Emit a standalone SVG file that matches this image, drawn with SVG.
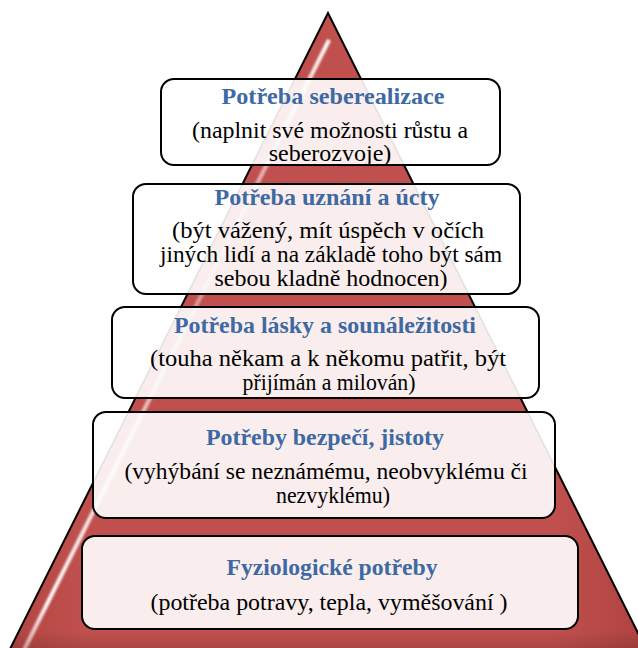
<svg xmlns="http://www.w3.org/2000/svg" width="638" height="648" viewBox="0 0 638 648">
<defs>
<linearGradient id="pyrFill" x1="0" y1="0" x2="1" y2="0">
<stop offset="0" stop-color="#B24541"/>
<stop offset="0.12" stop-color="#C0504D"/>
<stop offset="0.85" stop-color="#C0504D"/>
<stop offset="1" stop-color="#AE423F"/>
</linearGradient>
<linearGradient id="pyrBottom" x1="0" y1="0" x2="0" y2="1">
<stop offset="0" stop-color="#000" stop-opacity="0"/>
<stop offset="0.96" stop-color="#000" stop-opacity="0"/>
<stop offset="1" stop-color="#000" stop-opacity="0.18"/>
</linearGradient>
<linearGradient id="hl" gradientUnits="userSpaceOnUse" x1="328" y1="40" x2="23" y2="652">
<stop offset="0" stop-color="#fff" stop-opacity="1"/>
<stop offset="0.08" stop-color="#fff" stop-opacity="0.8"/>
<stop offset="0.35" stop-color="#fff" stop-opacity="0.35"/>
<stop offset="0.65" stop-color="#fff" stop-opacity="0.7"/>
<stop offset="0.92" stop-color="#fff" stop-opacity="1"/>
<stop offset="1" stop-color="#fff" stop-opacity="0.5"/>
</linearGradient>
<filter id="soft" x="-0.1" y="-0.1" width="1.2" height="1.2"><feGaussianBlur stdDeviation="1"/></filter>
</defs>
<style>
.box{fill:#fff;fill-opacity:0.9;stroke:#000;stroke-width:2}
.t{font-family:'Liberation Serif','Times New Roman',serif;font-weight:bold;font-size:24px;fill:#3E69A3;text-anchor:middle}
.b{font-family:'Liberation Serif','Times New Roman',serif;font-size:24px;fill:#000;text-anchor:middle}
</style>
<g id="pyramid">
<polygon points="328,13 6,657 650,657" fill="url(#pyrFill)"/>
<polygon points="328,13 6,657 650,657" fill="url(#pyrBottom)"/>
<polyline points="329,40 23,652" fill="none" stroke="url(#hl)" stroke-width="4" filter="url(#soft)"/>
<polygon points="328,13 6,657 650,657" fill="none" stroke="#000" stroke-width="2" stroke-linejoin="miter"/>
</g>
<g id="level1">
<rect class="box" x="161" y="79" width="339" height="86" rx="13"/>
<text class="t" x="333" y="104" textLength="223" lengthAdjust="spacingAndGlyphs">Potřeba seberealizace</text>
<text class="b" x="330" y="138" textLength="276" lengthAdjust="spacingAndGlyphs">(naplnit své možnosti růstu a</text>
<text class="b" x="330" y="161">seberozvoje)</text>
</g>
<g id="level2">
<rect class="box" x="133" y="184" width="387" height="110" rx="13"/>
<text class="t" x="327" y="205" textLength="225" lengthAdjust="spacingAndGlyphs">Potřeba uznání a úcty</text>
<text class="b" x="328" y="238" textLength="312" lengthAdjust="spacingAndGlyphs">(být vážený, mít úspěch v očích</text>
<text class="b" x="331" y="262" textLength="342" lengthAdjust="spacingAndGlyphs">jiných lidí a na základě toho být sám</text>
<text class="b" x="331" y="286" textLength="233" lengthAdjust="spacingAndGlyphs">sebou kladně hodnocen)</text>
</g>
<g id="level3">
<rect class="box" x="112" y="307" width="427" height="91" rx="13"/>
<text class="t" x="325" y="333" textLength="302" lengthAdjust="spacingAndGlyphs">Potřeba lásky a sounáležitosti</text>
<text class="b" x="328" y="366" textLength="356" lengthAdjust="spacingAndGlyphs">(touha někam a k někomu patřit, být</text>
<text class="b" x="329" y="390" textLength="173" lengthAdjust="spacingAndGlyphs">přijímán a milován)</text>
</g>
<g id="level4">
<rect class="box" x="93" y="412" width="462" height="106" rx="13"/>
<text class="t" x="325" y="445" textLength="238" lengthAdjust="spacingAndGlyphs">Potřeby bezpečí, jistoty</text>
<text class="b" x="326" y="479" textLength="403" lengthAdjust="spacingAndGlyphs">(vyhýbání se neznámému, neobvyklému či</text>
<text class="b" x="333" y="503" textLength="114" lengthAdjust="spacingAndGlyphs">nezvyklému)</text>
</g>
<g id="level5">
<rect class="box" x="82" y="536" width="496" height="93" rx="13"/>
<text class="t" x="332" y="575" textLength="211" lengthAdjust="spacingAndGlyphs">Fyziologické potřeby</text>
<text class="b" x="329" y="610" textLength="357" lengthAdjust="spacingAndGlyphs">(potřeba potravy,  tepla, vyměšování  )</text>
</g>
</svg>
